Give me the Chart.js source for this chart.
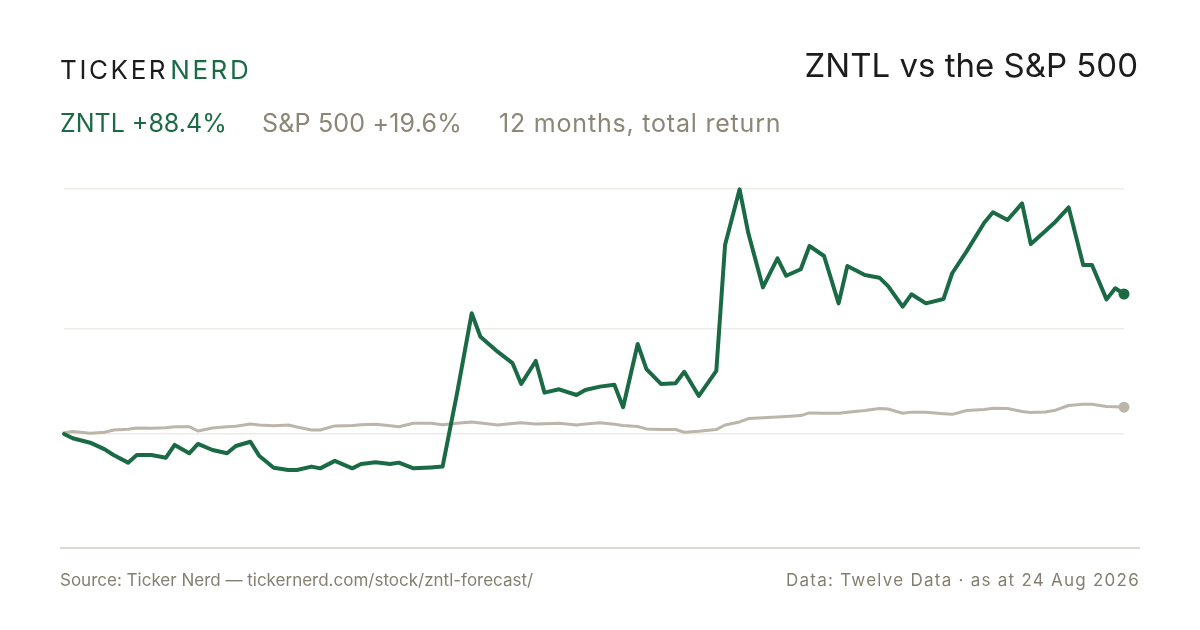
<!DOCTYPE html>
<html>
<head>
<meta charset="utf-8">
<script src="https://cdn.jsdelivr.net/npm/chart.js@4.4.1/dist/chart.umd.min.js"></script>
<style>
  html, body { margin: 0; padding: 0; background: #fff; }
  body { width: 1200px; height: 630px; position: relative; overflow: hidden; font-family: Inter, "Liberation Sans", sans-serif; }
  #chart { position: absolute; left: 0; top: 0; }
  .t { position: absolute; line-height: 1; white-space: nowrap; }
  .brand { left: 60px; top: 57px; font-size: 26px; letter-spacing: 2.6px; color: #1c1c1c; }
  .brand span { color: #1a6b45; margin-left: 2px; }
  .title { right: 62px; top: 49px; font-size: 33px; color: #1c1c1c; }
  .sub { top: 111px; font-size: 25px; color: #8c8677; letter-spacing: 0.2px; }
  .green { color: #1a6b45; }
  .foot { top: 572px; font-size: 17px; color: #847f70; }
</style>
</head>
<body>
<canvas id="chart" width="1200" height="630"></canvas>
<div class="t brand">TICKER<span>NERD</span></div>
<div class="t title">ZNTL vs the S&amp;P 500</div>
<div class="t sub green" style="left:60px;letter-spacing:0">ZNTL +88.4%</div>
<div class="t sub" style="left:262px">S&amp;P 500 +19.6%</div>
<div class="t sub" style="left:499px;letter-spacing:0.8px">12 months, total return</div>
<div class="t foot" style="left:60px">Source: Ticker Nerd — tickernerd.com/stock/zntl-forecast/</div>
<div class="t foot" style="right:60px;letter-spacing:1.25px">Data: Twelve Data · as at 24 Aug 2026</div>
<script>
// sample dates (every 3rd trading day + latest close)
const dates = ["2025-08-25","2025-08-28","2025-09-03","2025-09-08","2025-09-11","2025-09-16","2025-09-19","2025-09-24","2025-09-29","2025-10-02",
  "2025-10-07","2025-10-10","2025-10-15","2025-10-20","2025-10-23","2025-10-28","2025-10-31","2025-11-05","2025-11-10","2025-11-13",
  "2025-11-18","2025-11-21","2025-11-26","2025-12-02","2025-12-05","2025-12-10","2025-12-15","2025-12-18","2025-12-23","2025-12-29",
  "2026-01-02","2026-01-07","2026-01-12","2026-01-15","2026-01-21","2026-01-26","2026-01-29","2026-02-03","2026-02-06","2026-02-11",
  "2026-02-17","2026-02-20","2026-02-25","2026-03-02","2026-03-05","2026-03-10","2026-03-13","2026-03-18","2026-03-23","2026-03-26",
  "2026-03-31","2026-04-06","2026-04-09","2026-04-14","2026-04-17","2026-04-22","2026-04-27","2026-04-30","2026-05-05","2026-05-08",
  "2026-05-13","2026-05-18","2026-05-21","2026-05-27","2026-06-01","2026-06-04","2026-06-09","2026-06-12","2026-06-17","2026-06-23",
  "2026-06-26","2026-07-01","2026-07-07","2026-07-10","2026-07-15","2026-07-20","2026-07-23","2026-07-28","2026-07-31","2026-08-05",
  "2026-08-10","2026-08-13","2026-08-18","2026-08-21","2026-08-24"];

// total return since start, %
const zntl = [0, -2.7, -5.5, -9.7, -13.3, -18.1, -13.3, -13.3, -15.0, -6.9,
  -12.2, -6.3, -10.1, -12.2, -7.6, -4.9, -13.7, -21.3, -22.7, -22.7,
  -20.6, -21.7, -17.0, -21.7, -18.9, -17.9, -18.9, -18.1, -21.7, -21.1,
  -20.6, 26.0, 76.2, 61.4, 51.8, 44.8, 31.6, 46.1, 26.1, 28.2,
  24.6, 27.8, 29.9, 31.1, 16.9, 56.8, 41.0, 31.6, 32.0, 39.3,
  24.0, 39.8, 119.3, 154.5, 126.7, 92.6, 110.9, 99.9, 104.0, 118.7,
  112.4, 82.5, 106.1, 100.4, 98.7, 93.4, 80.4, 88.2, 82.5, 85.2,
  101.5, 115.5, 133.4, 140.0, 135.1, 145.6, 119.9, 128.2, 133.2, 143.1,
  106.7, 106.7, 85.0, 92.0, 88.4];

const spx = [0.8, 1.5, 0.4, 1.1, 2.5, 3.0, 3.8, 3.6, 4.0, 4.6,
  4.6, 1.9, 3.8, 4.6, 4.9, 6.3, 5.7, 5.2, 5.7, 4.4,
  2.5, 2.5, 5.1, 5.4, 5.9, 6.1, 5.2, 4.6, 6.8, 6.8,
  5.9, 6.8, 7.6, 6.9, 5.7, 6.6, 7.1, 6.3, 6.5, 6.8,
  5.7, 6.3, 7.1, 6.1, 5.4, 4.7, 3.2, 2.8, 2.8, 1.1,
  1.7, 2.8, 5.7, 7.6, 9.7, 10.2, 10.7, 11.0, 11.6, 13.3,
  13.1, 13.1, 13.7, 14.8, 16.1, 15.8, 13.1, 13.8, 13.7, 12.8,
  12.4, 14.8, 15.5, 16.2, 16.1, 14.2, 13.6, 13.9, 14.8, 18.0,
  18.8, 18.8, 17.4, 17.2, 16.9];

const gridValues = [0, 66.3, 154.7];
const yMin = -72.0;
const yMax = 154.7;

const GREEN = "#1a6b45";
const GREY = "#bcb5aa";

const t0 = Date.parse(dates[0]);
const days = dates.map(d => (Date.parse(d) - t0) / 864e5);
const toPoints = vals => vals.map((v, i) => ({ x: days[i], y: v }));
const lastDot = r => ctx => (ctx.dataIndex === dates.length - 1 ? r : 0);

// bottom rule, a bit wider than the plot
const baseRule = {
  id: "baseRule",
  beforeDatasetsDraw(chart) {
    const { ctx, chartArea } = chart;
    ctx.save();
    ctx.strokeStyle = "#dedad1";
    ctx.lineWidth = 2;
    ctx.beginPath();
    ctx.moveTo(60, chartArea.bottom);
    ctx.lineTo(1140, chartArea.bottom);
    ctx.stroke();
    ctx.restore();
  }
};

new Chart(document.getElementById("chart"), {
  type: "line",
  data: {
    datasets: [
      {
        label: "ZNTL",
        data: toPoints(zntl),
        borderColor: GREEN,
        backgroundColor: GREEN,
        borderWidth: 4,
        tension: 0,
        pointRadius: lastDot(5.5),
        pointBorderWidth: 0,
        borderJoinStyle: "round",
        borderCapStyle: "round",
        clip: false
      },
      {
        label: "S&P 500",
        data: toPoints(spx),
        borderColor: GREY,
        backgroundColor: GREY,
        borderWidth: 3,
        tension: 0,
        pointRadius: lastDot(5.5),
        pointBorderWidth: 0,
        borderJoinStyle: "round",
        borderCapStyle: "round",
        clip: false
      }
    ]
  },
  options: {
    responsive: false,
    animation: false,
    events: [],
    layout: { padding: { left: 64, right: 76, top: 189, bottom: 82 } },
    plugins: { legend: { display: false }, tooltip: { enabled: false } },
    scales: {
      x: { type: "linear", display: false, min: days[0], max: days[days.length - 1] },
      y: {
        min: yMin,
        max: yMax,
        afterBuildTicks: scale => { scale.ticks = gridValues.map(v => ({ value: v })); },
        ticks: { display: false },
        border: { display: false },
        grid: { color: "#eeebe6", lineWidth: 1.5, drawTicks: false }
      }
    }
  },
  plugins: [baseRule]
});
</script>
</body>
</html>
